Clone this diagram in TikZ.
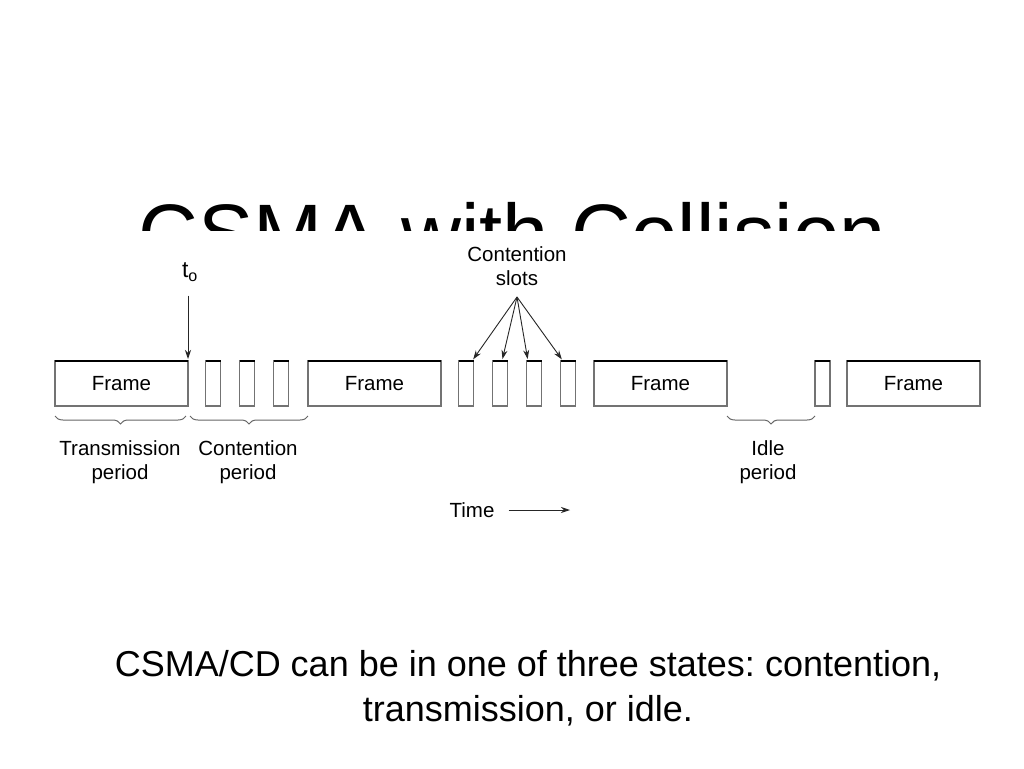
\documentclass[tikz,border=0pt]{standalone}
\usepackage{fontspec}
\setmainfont{Liberation Sans}
\usetikzlibrary{arrows.meta,positioning,decorations.pathreplacing}
\frenchspacing

\begin{document}
\begin{tikzpicture}[
  x=1pt, y=-1pt,
  font=\fontsize{20.5}{24}\selectfont,
  framebox/.style={draw=black!55, line width=1.6pt, minimum width=133pt, minimum height=45pt, inner sep=0pt, outer sep=0pt},
  slot/.style={framebox, minimum width=15pt},
  lbl/.style={align=center, inner sep=0pt},
  brc/.style={draw=black!60, line width=1pt, decorate, decoration={brace, mirror, amplitude=8pt}},
  arr/.style={->, draw=black!85, line width=0.9pt},
  >={Stealth[length=9pt,width=6pt]}
]
\useasboundingbox (0,0) rectangle (1024,768);

% ---- slide title, half hidden by the figure ----
\node[anchor=base, inner sep=0pt, font=\fontsize{83}{90}\selectfont] (title) at (512,262) {CSMA with Collision};
\fill[white] (0,231) rectangle (1024,540);

% ---- frames and slots ----
\node[framebox] (fA) at (121.5,383.5) {Frame};
\node[framebox] (fB) at (374.5,383.5) {Frame};
\node[framebox] (fC) at (660.5,383.5) {Frame};
\node[framebox] (fD) at (913.5,383.5) {Frame};

\foreach \x [count=\i] in {213,247,281}
  \node[slot] (c\i) at (\x,383.5) {};
\foreach \x [count=\i] in {466,500,534,568}
  \node[slot] (k\i) at (\x,383.5) {};
\node[slot] (w) at (822.5,383.5) {};

% top edges are darker
\foreach \n in {fA,fB,fC,fD,c1,c2,c3,k1,k2,k3,k4,w}
  \draw[line width=1.6pt] (\n.north west) -- (\n.north east);

% ---- t0 marker ----
\node[inner sep=0pt, font=\fontsize{23}{26}\selectfont] (t0) at (190,272) {t\textsubscript{o}};
\draw[arr, shorten <=14pt, shorten >=2pt] (t0.south -| fA.north east) -- (fA.north east);

% ---- contention slots ----
\node[lbl] (cs) at (517,266) {Contention\\slots};
\coordinate (fan) at (517,297);
\foreach \i/\dx in {1/6,2/2,3/-6,4/-5}
  \draw[arr, shorten >=2pt] (fan) -- ([xshift=\dx pt]k\i.north);

% ---- braces ----
\draw[brc] ([shift={(0,10)}]fA.south west) -- ([shift={(-2,10)}]fA.south east);
\draw[brc] ([shift={(2,10)}]fA.south east) -- ([shift={(0,10)}]fB.south west);
\draw[brc] ([shift={(0,10)}]fC.south east) -- ([shift={(0,10)}]w.south west);

\node[lbl] (ltrans) at (120,462) {Transmission\\period};
\node[lbl] (lcont) at (248,462) {Contention\\period};
\node[lbl] (lidle) at (768,462) {Idle\\period};

% ---- time axis ----
\node[inner sep=0pt] (time) at (472,510) {Time};
\coordinate (tend) at (570,510);
\draw[arr] ([xshift=14pt]time.east) -- (tend);

% ---- caption ----
\node[lbl, font=\fontsize{36}{45}\selectfont] (cap) at (528,688) {CSMA/CD can be in one of three states: contention,\\transmission, or idle.};

\end{tikzpicture}
\end{document}
